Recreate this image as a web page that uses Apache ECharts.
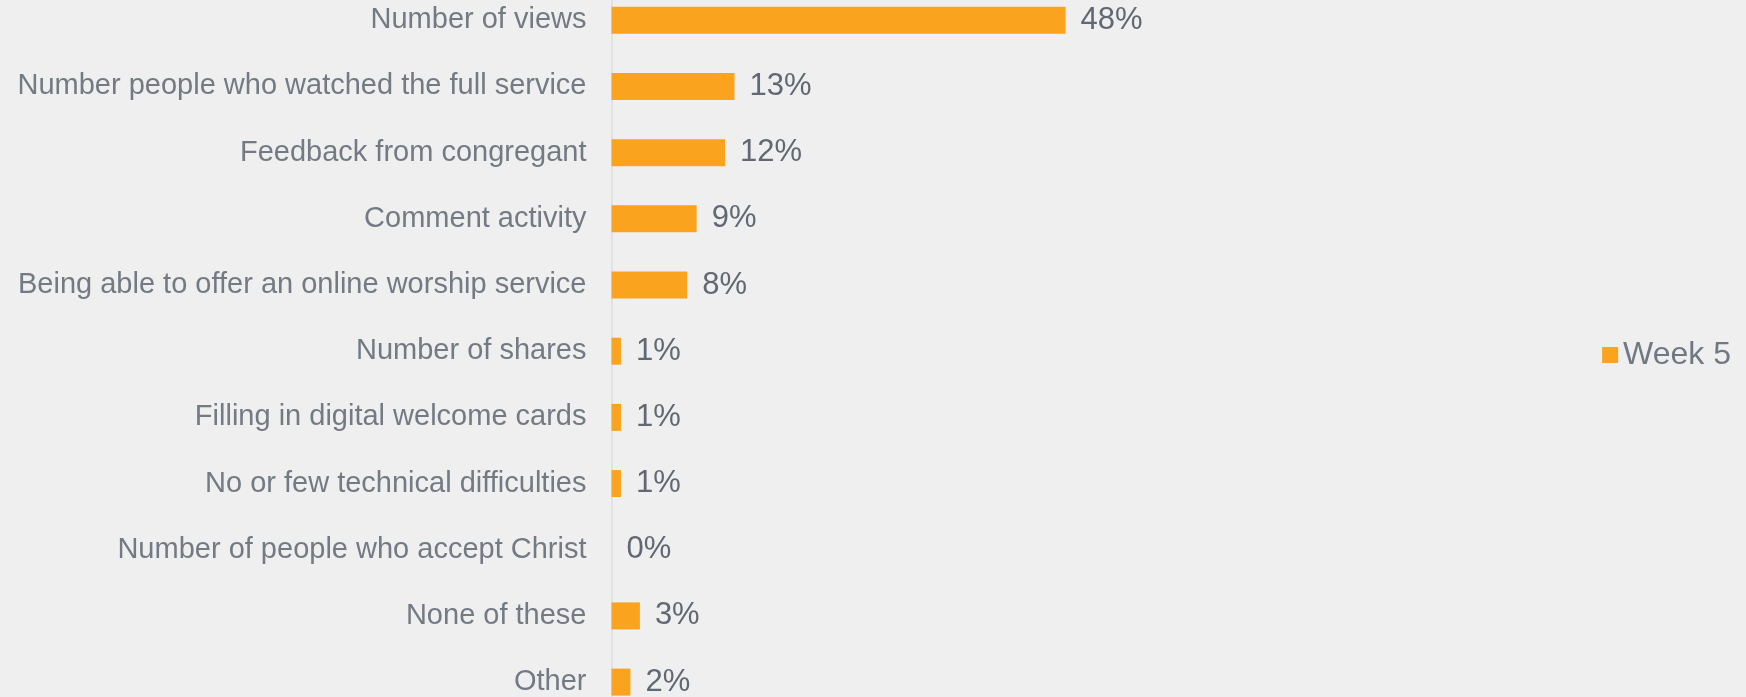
<!DOCTYPE html>
<html><head><meta charset="utf-8">
<script src="https://cdn.jsdelivr.net/npm/echarts@6/dist/echarts.min.js"></script>
<style>html,body{margin:0;padding:0;background:#efefef}#c{width:1746px;height:697px}</style>
</head><body><div id="c"></div>
<script>
var categories = ["Number of views","Number people who watched the full service","Feedback from congregant","Comment activity","Being able to offer an online worship service","Number of shares","Filling in digital welcome cards","No or few technical difficulties","Number of people who accept Christ","None of these","Other"];
var week5 = [48,13,12,9,8,1,1,1,0,3,2];
var seriesName = "Week 5";
var chart = echarts.init(document.getElementById('c'));
chart.setOption({
  backgroundColor:'#efefef',
  animation:false,
  legend:{orient:'vertical',right:10,top:334,itemWidth:16,itemHeight:16,itemGap:7,
    icon:'rect',textStyle:{fontFamily:'Liberation Sans',fontSize:32,color:'#707883'},data:[seriesName]},
  grid:{left:611.5,top:-12.8,width:946,height:728,containLabel:false,outerBoundsMode:'none'},
  xAxis:{type:'value',min:0,max:100,show:false,splitLine:{show:false}},
  yAxis:{type:'category',data:categories,inverse:true,
    axisLine:{show:true,lineStyle:{color:'#dedede',width:1.5}},axisTick:{show:false},
    axisLabel:{fontFamily:'Liberation Sans',fontSize:29,color:'#737a84',margin:25}},
  series:[{name:seriesName,type:'bar',data:week5,barWidth:27,
    itemStyle:{color:'#f9a31f'},
    label:{show:true,position:'right',distance:15,formatter:'{c}%',fontFamily:'Liberation Sans',fontSize:31,color:'#616873'}}]
});
</script></body></html>
